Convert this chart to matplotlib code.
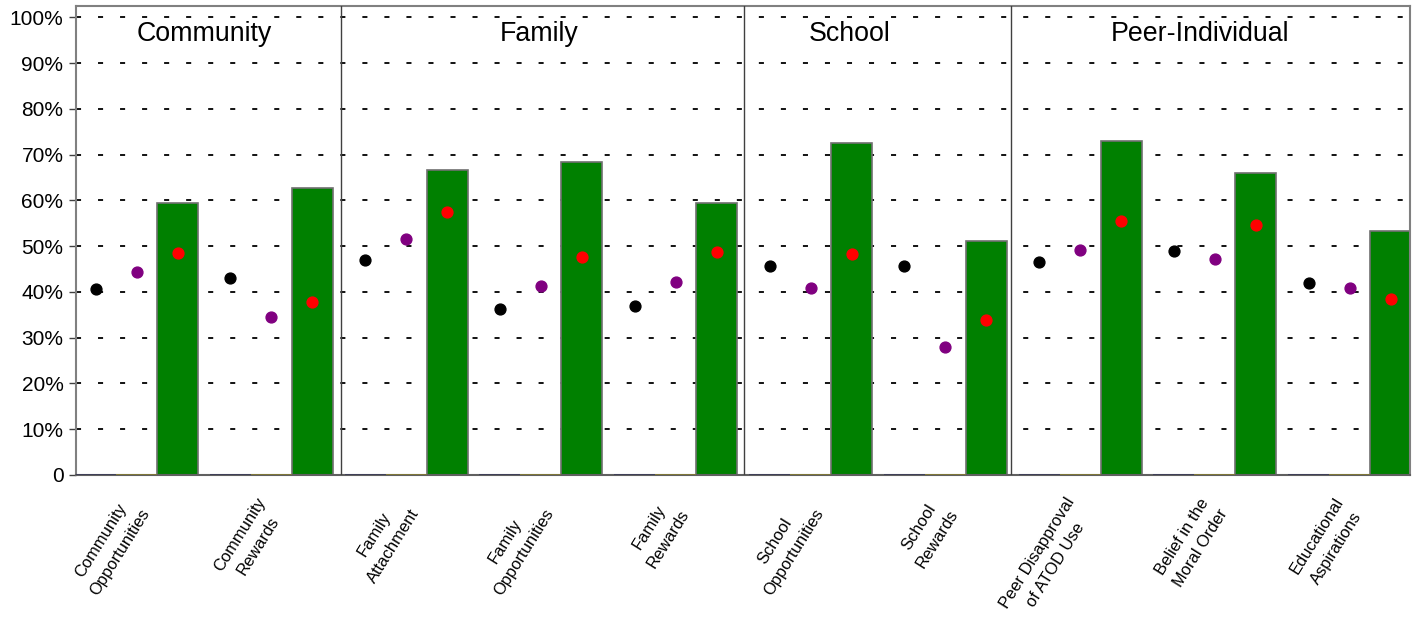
import matplotlib
matplotlib.use("Agg")
import matplotlib.pyplot as plt
import numpy as np
from matplotlib.ticker import FixedLocator, FixedFormatter

plt.rcParams['font.family'] = ['Liberation Sans', 'DejaVu Sans']

# ---- data ----
categories = ["Community\nOpportunities", "Community\nRewards",
              "Family\nAttachment", "Family\nOpportunities", "Family\nRewards",
              "School\nOpportunities", "School\nRewards",
              "Peer Disapproval\nof ATOD Use", "Belief in the\nMoral Order",
              "Educational\nAspirations"]
groups = ["Community", "Family", "School", "Peer-Individual"]
group_sizes = [2, 3, 2, 3]

bar_values = [59.4, 62.7, 66.7, 68.4, 59.4, 72.5, 51.1, 72.9, 65.9, 53.3]
bar1_values = [0] * 10
bar2_values = [0] * 10
black_dots = [40.7, 43.0, 47.0, 36.3, 36.9, 45.7, 45.7, 46.6, 48.9, 42.0]
purple_dots = [44.4, 34.6, 51.6, 41.2, 42.1, 40.8, 27.9, 49.1, 47.1, 40.8]
red_dots = [48.5, 37.7, 57.5, 47.7, 48.7, 48.2, 33.8, 55.5, 54.6, 38.5]

ytick_vals = [0, 10, 20, 30, 40, 50, 60, 70, 80, 90, 100]
ytick_labels = ["0", "10%", "20%", "30%", "40%", "50%", "60%", "70%", "80%", "90%", "100%"]

# ---- layout ----
W, H = 1418, 617
fig = plt.figure(figsize=(W / 100, H / 100), dpi=100)
ax = fig.add_axes([76 / W, 1 - 475 / H, (1410 - 76) / W, (475 - 6) / H])

x = np.arange(len(categories))
d = 0.304
bw = 0.304

# gridlines
for v in ytick_vals[1:]:
    ax.axhline(v, color='black', linewidth=1.3, linestyle=(0, (2.8, 9.4)), zorder=1)

ax.bar(x - d, bar1_values, width=bw, color='#303050', edgecolor='#404058', linewidth=1.4, zorder=3)
ax.bar(x, bar2_values, width=bw, color='#808030', edgecolor='#807838', linewidth=1.4, zorder=3)
ax.bar(x + d, bar_values, width=bw, color='#008000', edgecolor='#707070', linewidth=1.2, zorder=2)

ax.plot(x - d, black_dots, 'o', color='black', markersize=7.8, zorder=4, linestyle='none')
ax.plot(x, purple_dots, 'o', color='#800080', markersize=7.8, zorder=4, linestyle='none')
ax.plot(x + d, red_dots, 'o', color='#ff0000', markersize=7.8, zorder=4, linestyle='none')

ax.set_xlim(-0.449, 9.447)
ax.set_ylim(0, 102.5)

# group separators & titles
bounds = np.cumsum(group_sizes)[:-1]
sep_adj = [0.017, 0.007, -0.01]
for b, a in zip(bounds, sep_adj):
    ax.axvline(b - 0.5 + a, color='#404040', linewidth=1.0, zorder=3)
title_x = [0.50, 2.99, 5.29, 7.89]
for gx, g in zip(title_x, groups):
    ax.text(gx, 96.3, g, ha='center', va='center', fontsize=19.3, color='black', zorder=5)

# axes styling
for s in ['left', 'top', 'right', 'bottom']:
    ax.spines[s].set_color('#808080')
    ax.spines[s].set_linewidth(1.5)
ax.spines['bottom'].set_color('#606060')

ax.yaxis.set_major_locator(FixedLocator(ytick_vals))
ax.yaxis.set_major_formatter(FixedFormatter(ytick_labels))
ax.tick_params(axis='y', length=5, width=1.0, color='#404040', labelsize=15, pad=4)

ax.set_xticks(x)
ax.set_xticklabels(categories, rotation=58, ha='right', va='center',
                   rotation_mode='anchor', fontsize=11.9, multialignment='center',
                   linespacing=1.6)
ax.tick_params(axis='x', length=0, pad=21.5)

fig.savefig("out.png", dpi=100)
